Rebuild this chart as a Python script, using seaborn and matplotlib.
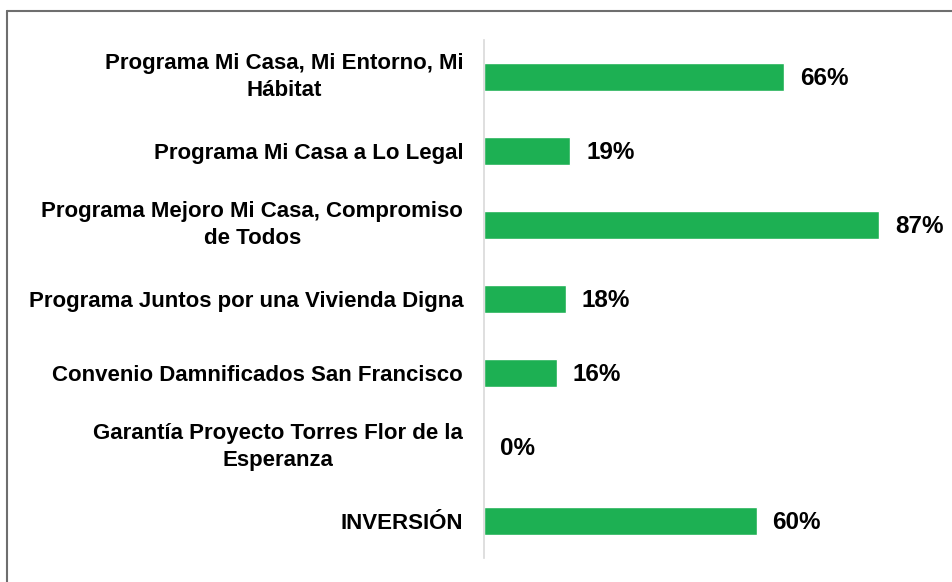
import pandas as pd
import numpy as np
import matplotlib.pyplot as plt
import seaborn as sns
from matplotlib.lines import Line2D

# Data
# ==============================================================================
categorias = [
    "Programa Mi Casa, Mi Entorno, Mi\nHábitat",
    "Programa Mi Casa a Lo Legal",
    "Programa Mejoro Mi Casa, Compromiso\nde Todos",
    "Programa Juntos por una Vivienda Digna",
    "Convenio Damnificados San Francisco",
    "Garantía Proyecto Torres Flor de la\nEsperanza",
    "INVERSIÓN",
]
porcentajes = [66, 19, 87, 18, 16, 0, 60]
etiquetas = ["66%", "19%", "87%", "18%", "16%", "0%", "60%"]

df = pd.DataFrame({"categoria": categorias, "pct": porcentajes})

# Chart
# ==============================================================================
sns.set_style("white")
plt.rcParams['font.family'] = ['Liberation Sans', 'DejaVu Sans']

fig = plt.figure(figsize=(9.52, 5.82), dpi=100)
ax = fig.add_axes([484 / 952, 1 - 558 / 582, 1 - 484 / 952, 518 / 582])

sns.barplot(
    data   = df,
    x      = "pct",
    y      = "categoria",
    color  = "#1DB053",
    width  = 0.37,
    orient = "h",
    saturation = 1,
    ax     = ax
)

for i, (v, t) in enumerate(zip(porcentajes, etiquetas)):
    ax.annotate(t, xy=(v, i), xytext=(11.5, -1), textcoords="offset points",
                va="center", ha="left", fontsize=17.5, fontweight="bold",
                color="black")

ax.set_xlim(0, 103)
ax.set_ylim(6.5, -0.5)
ax.set_xlabel("")
ax.set_ylabel("")
ax.set_xticks([])
for s in ["top", "right", "bottom"]:
    ax.spines[s].set_visible(False)
ax.spines["left"].set_color("#D9D9D9")
ax.spines["left"].set_linewidth(1.2)
ax.tick_params(axis="y", length=0, pad=15, colors="black")
for lbl in ax.get_yticklabels():
    lbl.set_fontsize(16)
    lbl.set_fontweight("bold")
    lbl.set_multialignment("center")
    lbl.set_linespacing(1.4)
    lbl.set_color("black")
    if "\n" in lbl.get_text():
        lbl.set_verticalalignment("center")

# outer frame (top and left)
fig.add_artist(Line2D([7 / 952, 7 / 952], [0, 1 - 11 / 582], color="#6E6E6E", lw=1.5))
fig.add_artist(Line2D([7 / 952, 1], [1 - 11 / 582, 1 - 11 / 582], color="#6E6E6E", lw=1.5))

plt.savefig("out.png", dpi=100)
